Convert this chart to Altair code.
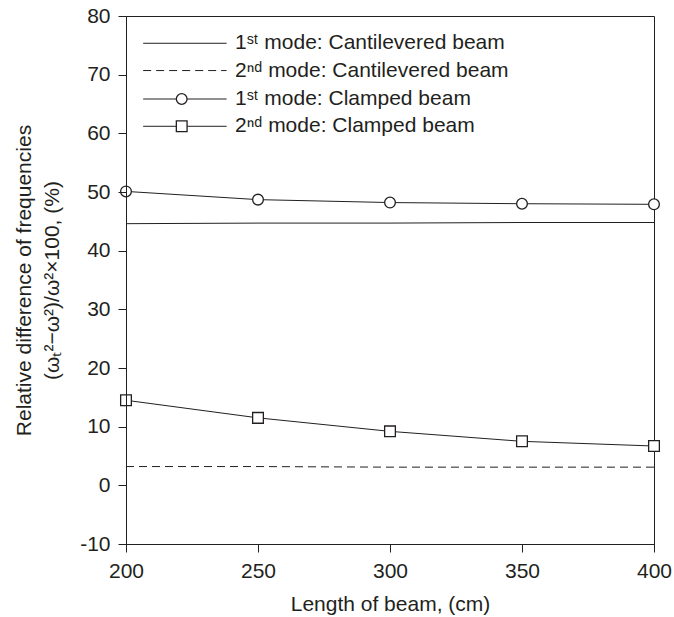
import altair as alt
import pandas as pd

# ---- data ----
length_cm = [200, 250, 300, 350, 400]
cant_mode1 = [44.6, 44.7, 44.7, 44.8, 44.8]
cant_mode2 = [3.2, 3.2, 3.1, 3.1, 3.1]
clamp_mode1 = [50.1, 48.7, 48.2, 48.0, 47.9]
clamp_mode2 = [14.5, 11.5, 9.2, 7.5, 6.7]

series_names = [
    "1ˢᵗ  mode: Cantilevered beam",
    "2ⁿᵈ mode: Cantilevered beam",
    "1ˢᵗ mode: Clamped beam",
    "2ⁿᵈ mode: Clamped beam",
]
y_ticks = [-10, 0, 10, 20, 30, 40, 50, 60, 70, 80]
x_ticks = [200, 250, 300, 350, 400]

INK = "#231f20"
FONT = "Liberation Sans"
FS = 21

def frame(values, name):
    return pd.DataFrame({"x": length_cm, "y": values, "series": name})

cant1 = frame(cant_mode1, series_names[0])
cant2 = frame(cant_mode2, series_names[1])
clamp1 = frame(clamp_mode1, series_names[2])
clamp2 = frame(clamp_mode2, series_names[3])

xscale = alt.Scale(domain=[200, 400], nice=False, zero=False)
yscale = alt.Scale(domain=[-10, 80], nice=False, zero=False)

xenc = alt.X("x:Q", scale=xscale,
             axis=alt.Axis(values=x_ticks, title="Length of beam, (cm)", grid=False,
                           tickSize=8, labelPadding=8, titlePadding=12, zindex=1,
                           labelFlush=False, labelOverlap=False,
                           labelExpr="'' + datum.value"))
yenc = alt.Y("y:Q", scale=yscale,
             axis=alt.Axis(values=y_ticks,
                           title=["Relative difference of frequencies",
                                  "(ωₜ²−ω²)/ω²×100, (%)"],
                           grid=False, tickSize=8, labelPadding=8, titlePadding=17,
                           titleLineHeight=28, zindex=1,
                           labelFlush=False, labelOverlap=False,
                           labelExpr="'' + datum.value"))

line_c1 = alt.Chart(cant1).mark_line(color=INK, strokeWidth=1).encode(x=xenc, y=yenc)
line_c2 = alt.Chart(cant2).mark_line(color=INK, strokeWidth=1, strokeDash=[8, 5]).encode(x=xenc, y=yenc)
line_k1 = alt.Chart(clamp1).mark_line(color=INK, strokeWidth=1).encode(x=xenc, y=yenc)
pts_k1 = alt.Chart(clamp1).mark_point(shape="circle", size=115, filled=True, fill="white",
                                      stroke=INK, strokeWidth=1.3, opacity=1).encode(x=xenc, y=yenc)
line_k2 = alt.Chart(clamp2).mark_line(color=INK, strokeWidth=1).encode(x=xenc, y=yenc)
pts_k2 = alt.Chart(clamp2).mark_point(shape="square", size=115, filled=True, fill="white",
                                      stroke=INK, strokeWidth=1.3, opacity=1).encode(x=xenc, y=yenc)

# ---- custom legend (in data units) ----
leg_rows_y = [75.35, 70.7, 65.85, 61.2]
leg_x0, leg_x1, leg_mid, leg_text = 206.5, 238.1, 221.1, 241.3
leg_lines = pd.DataFrame({
    "x": [leg_x0] * 4, "x2": [leg_x1] * 4, "y": leg_rows_y,
    "series": series_names, "dash": ["solid", "dashed", "solid", "solid"],
})
leg_solid = alt.Chart(leg_lines[leg_lines.dash == "solid"]).mark_rule(color=INK, strokeWidth=1).encode(
    x=alt.X("x:Q", scale=xscale), x2="x2:Q", y=alt.Y("y:Q", scale=yscale))
leg_dash = alt.Chart(leg_lines[leg_lines.dash == "dashed"]).mark_rule(
    color=INK, strokeWidth=1, strokeDash=[8, 5]).encode(
    x=alt.X("x:Q", scale=xscale), x2="x2:Q", y=alt.Y("y:Q", scale=yscale))
leg_circle = alt.Chart(pd.DataFrame({"x": [leg_mid], "y": [leg_rows_y[2]]})).mark_point(
    shape="circle", size=115, filled=True, fill="white", stroke=INK, strokeWidth=1.3, opacity=1
).encode(x=alt.X("x:Q", scale=xscale), y=alt.Y("y:Q", scale=yscale))
leg_square = alt.Chart(pd.DataFrame({"x": [leg_mid], "y": [leg_rows_y[3]]})).mark_point(
    shape="square", size=115, filled=True, fill="white", stroke=INK, strokeWidth=1.3, opacity=1
).encode(x=alt.X("x:Q", scale=xscale), y=alt.Y("y:Q", scale=yscale))
leg_text_df = pd.DataFrame({"x": [leg_text] * 4, "y": leg_rows_y, "label": series_names})
leg_labels = alt.Chart(leg_text_df).mark_text(
    align="left", baseline="middle", font=FONT, fontSize=FS, color=INK
).encode(x=alt.X("x:Q", scale=xscale), y=alt.Y("y:Q", scale=yscale), text="label:N")

chart = alt.layer(
    line_c1, line_c2, line_k1, line_k2, pts_k1, pts_k2,
    leg_solid, leg_dash, leg_circle, leg_square, leg_labels,
).properties(
    width=528, height=528,
    autosize=alt.AutoSizeParams(type="none"),
    padding={"left": 126, "top": 16, "right": 20, "bottom": 73},
    background="white",
).configure_view(
    stroke=INK, strokeWidth=1
).configure_axis(
    domainColor=INK, tickColor=INK, labelColor=INK, titleColor=INK,
    labelFont=FONT, titleFont=FONT, labelFontSize=FS, titleFontSize=FS,
    titleFontWeight="normal", domainWidth=1, tickWidth=1,
)

chart.save("out.html", embed_options={"renderer": "svg", "actions": False})
